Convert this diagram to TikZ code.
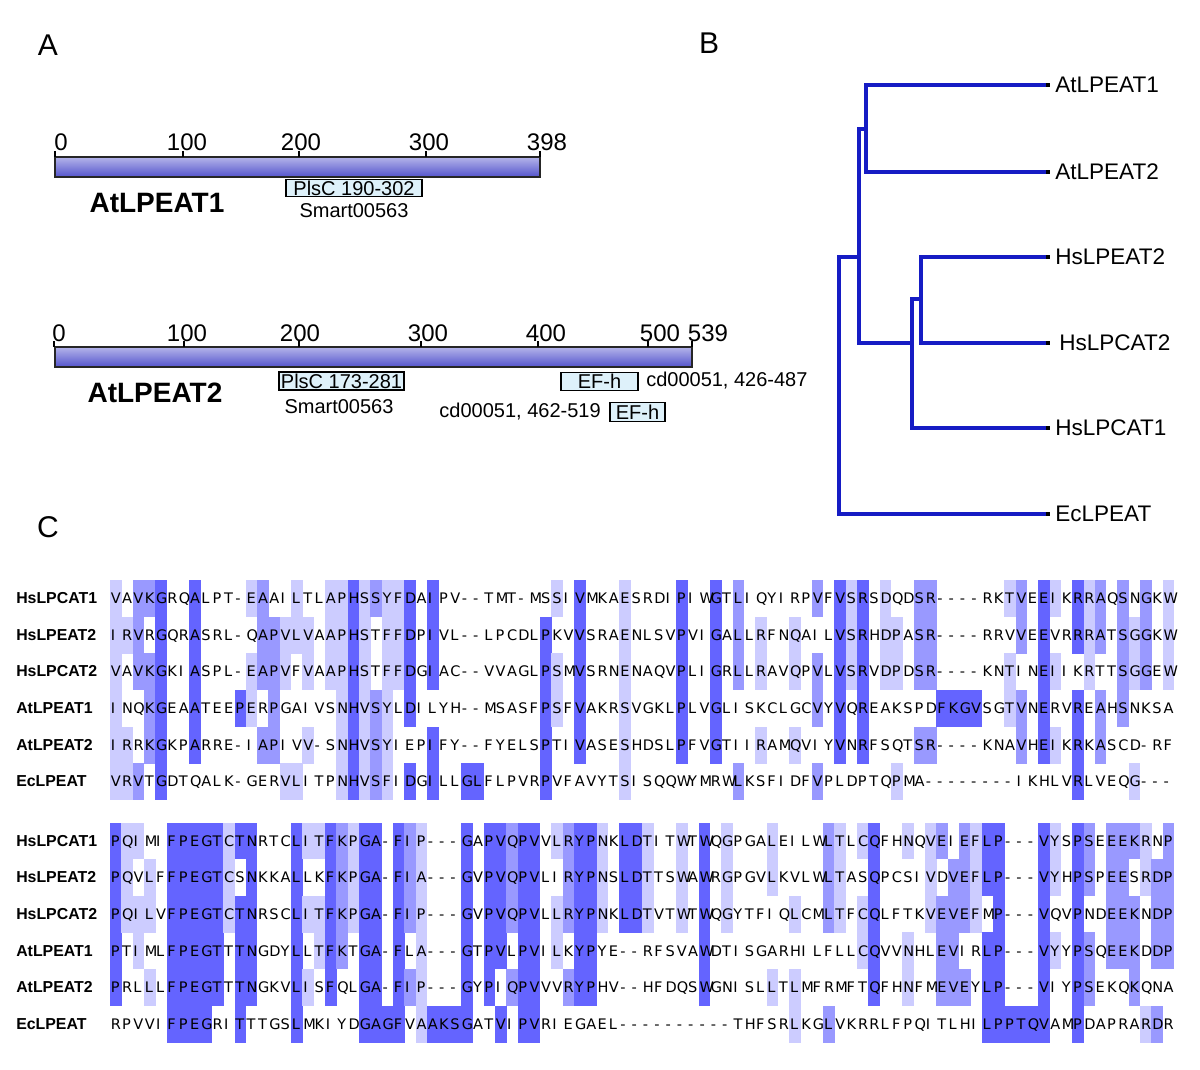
\documentclass[tikz,border=0pt]{standalone}
\usepackage{fontspec}
\setmainfont{Liberation Sans}
\newfontfamily\alnfont{DejaVu Sans}
\definecolor{pidhi}{RGB}{100,100,255}
\definecolor{pidmd}{RGB}{153,153,255}
\definecolor{pidlo}{RGB}{204,204,255}
\definecolor{treeblue}{RGB}{22,28,196}
\definecolor{domfill}{RGB}{222,241,250}
\definecolor{bartop}{RGB}{180,180,234}
\definecolor{barmid}{RGB}{234,234,253}
\definecolor{barbot}{RGB}{84,84,204}

\newcommand\alncell[3]{\fill[fill=#3] (#1,#2) rectangle ++(11.62,36.95);}

\ExplSyntaxOn
\cs_generate_variant:Nn \str_item:Nn { c }
\cs_generate_variant:Nn \str_set:Nn { c }
\cs_generate_variant:Nn \str_map_function:NN { c }
\int_step_inline:nn {6} { \str_new:c { l_aln_s #1 _str } }
\int_new:N \l_aln_i_int
\int_new:N \l_aln_j_int
\int_new:N \l_aln_k_int
\int_new:N \l_aln_ng_int
\int_new:N \l_aln_max_int
\int_new:N \l_aln_cnt_int
\tl_new:N \l_aln_a_tl
\tl_new:N \l_aln_b_tl
\tl_new:N \l_aln_col_tl
\tl_new:N \l_aln_gap_tl
\tl_set:Nn \l_aln_gap_tl {-}
\fp_new:N \l_aln_top_fp

\cs_new_protected:Npn \aln_get:NN #1#2
  { \tl_set:Nx #2 { \str_item:cn { l_aln_s \int_use:N #1 _str } { \int_use:N \l_aln_j_int } } }

\cs_new_protected:Npn \aln_count:
  {
    \int_zero:N \l_aln_cnt_int
    \int_set:Nn \l_aln_k_int {1}
    \int_do_while:nNnn { \l_aln_k_int } < {7}
      {
        \aln_get:NN \l_aln_k_int \l_aln_b_tl
        \tl_if_eq:NNT \l_aln_a_tl \l_aln_b_tl { \int_incr:N \l_aln_cnt_int }
        \int_incr:N \l_aln_k_int
      }
  }

\cs_new_protected:Npn \aln_column:
  {
    \int_zero:N \l_aln_ng_int
    \int_zero:N \l_aln_max_int
    \int_set:Nn \l_aln_i_int {1}
    \int_do_while:nNnn { \l_aln_i_int } < {7}
      {
        \aln_get:NN \l_aln_i_int \l_aln_a_tl
        \tl_if_eq:NNF \l_aln_a_tl \l_aln_gap_tl
          {
            \int_incr:N \l_aln_ng_int
            \aln_count:
            \int_compare:nNnT { \l_aln_cnt_int } > { \l_aln_max_int }
              { \int_set_eq:NN \l_aln_max_int \l_aln_cnt_int }
          }
        \int_incr:N \l_aln_i_int
      }
    \tl_clear:N \l_aln_col_tl
    \int_compare:nNnT { \l_aln_ng_int } > { 0 }
      {
        \int_compare:nNnTF { 100 * \l_aln_max_int } > { 80 * \l_aln_ng_int }
          { \tl_set:Nn \l_aln_col_tl { pidhi } }
          {
            \int_compare:nNnTF { 100 * \l_aln_max_int } > { 60 * \l_aln_ng_int }
              { \tl_set:Nn \l_aln_col_tl { pidmd } }
              {
                \int_compare:nNnT { 100 * \l_aln_max_int } > { 40 * \l_aln_ng_int }
                  { \tl_set:Nn \l_aln_col_tl { pidlo } }
              }
          }
      }
    \tl_if_empty:NF \l_aln_col_tl
      {
        \int_set:Nn \l_aln_i_int {1}
        \int_do_while:nNnn { \l_aln_i_int } < {7}
          {
            \aln_get:NN \l_aln_i_int \l_aln_a_tl
            \tl_if_eq:NNF \l_aln_a_tl \l_aln_gap_tl
              {
                \aln_count:
                \int_compare:nNnT { \l_aln_cnt_int } = { \l_aln_max_int }
                  {
                    \use:x
                      {
                        \exp_not:N \alncell
                          { \fp_eval:n { 110 + (\l_aln_j_int - 1) * 11.32 } }
                          { \fp_eval:n { \l_aln_top_fp + (\l_aln_i_int - 1) * 36.65 } }
                          { \l_aln_col_tl }
                      }
                  }
              }
            \int_incr:N \l_aln_i_int
          }
      }
  }

\NewDocumentCommand \alnset { m m m m m m }
  {
    \str_set:cn { l_aln_s1_str } {#1}
    \str_set:cn { l_aln_s2_str } {#2}
    \str_set:cn { l_aln_s3_str } {#3}
    \str_set:cn { l_aln_s4_str } {#4}
    \str_set:cn { l_aln_s5_str } {#5}
    \str_set:cn { l_aln_s6_str } {#6}
  }
\NewDocumentCommand \alnshade { m }
  {
    \fp_set:Nn \l_aln_top_fp {#1}
    \int_set:Nn \l_aln_j_int {1}
    \int_do_while:nNnn { \l_aln_j_int } < {95}
      { \aln_column: \int_incr:N \l_aln_j_int }
  }
\cs_new:Npn \aln_box:n #1 { \makebox [ 8.49pt ] [ l ] {#1} }
\NewDocumentCommand \alnrow { m }
  { \str_map_function:cN { l_aln_s #1 _str } \aln_box:n }
\ExplSyntaxOff

\tikzset{
  panel/.style={font=\fontsize{22.5pt}{26pt}\selectfont, inner sep=0pt},
  rulerlab/.style={font=\fontsize{18pt}{21pt}\selectfont, inner sep=0pt, anchor=base},
  tick/.style={draw=black, line width=0.8pt},
  protbar/.style={draw=black!85, line width=0.8pt, top color=bartop, middle color=barmid, bottom color=barbot},
  protname/.style={font=\bfseries\fontsize{21pt}{24pt}\selectfont, inner sep=0pt},
  dombox/.style={draw=black, line width=0.8pt, fill=domfill, inner sep=0pt,
     text height=10.7pt, text depth=0pt, font=\fontsize{15pt}{18pt}\selectfont},
  domtext/.style={font=\fontsize{15pt}{18pt}\selectfont, inner sep=0pt},
  treeline/.style={draw=treeblue, line width=2.8pt},
  tipsq/.style={fill=black, minimum size=3.6pt, inner sep=0pt},
  leaflab/.style={font=\fontsize{16.9pt}{20pt}\selectfont, inner sep=0pt, anchor=west},
  seqname/.style={font=\bfseries\fontsize{11.9pt}{14pt}\selectfont, inner sep=0pt, anchor=base west},
  seqrow/.style={font=\alnfont\fontsize{10.9pt}{13pt}\selectfont, inner sep=0pt, anchor=base west}
}

\begin{document}
\begin{tikzpicture}[x=0.75pt,y=-0.75pt]
\useasboundingbox (0,0) rectangle (1200,1070);
\fill[white] (0,0) rectangle (1200,1070);

% ---------- panel labels
\node[panel] (labA) at (48,45) {A};
\node[panel] (labB) at (709,43) {B};
\node[panel] (labC) at (48,527) {C};

% ---------- panel A, AtLPEAT1
\node[protbar, minimum width=363.75pt, minimum height=15pt, inner sep=0pt] (bar1) at (297.5,167) {};
\foreach \t/\x/\lx in {0/55/61,100/183/187,200/299/301,300/426/429,398/540/547}{
  \draw[tick] (\x,151) -- (\x,157);
  \node[rulerlab] (ra\t) at (\lx,151) {\t};
}
\node[protname] (nameA1) at (157,203) {AtLPEAT1};
\node[dombox, minimum width=102pt, minimum height=12.75pt] (plsc1) at (354,188) {PlsC 190-302};
\node[domtext] (sm1) at (354,211) {Smart00563};

% ---------- panel A, AtLPEAT2
\node[protbar, minimum width=477.75pt, minimum height=15pt, inner sep=0pt] (bar2) at (373.5,357) {};
\foreach \t/\x/\lx in {0/54/59,100/184/187,200/299/300,300/421/428,400/538/546,500/648/660,539/692/708}{
  \draw[tick] (\x,341) -- (\x,347);
  \node[rulerlab] (rb\t) at (\lx,341) {\t};
}
\node[protname] (nameA2) at (155,393) {AtLPEAT2};
\node[dombox, minimum width=93.75pt, minimum height=13.5pt] (plsc2) at (341.5,381) {PlsC 173-281};
\node[domtext] (sm2) at (339,407) {Smart00563};
\node[dombox, minimum width=57.75pt, minimum height=14pt] (efh1) at (599.5,381.5) {EF-h};
\node[domtext, anchor=west] (cd1) at (646,381) {cd00051, 426-487};
\node[dombox, minimum width=41.25pt, minimum height=14pt] (efh2) at (637.5,412) {EF-h};
\node[domtext, anchor=east] (cd2) at (601,412) {cd00051, 462-519};

% ---------- panel B, tree
\coordinate (tAt1) at (1048,85);
\coordinate (tAt2) at (1048,172);
\coordinate (tH2)  at (1048,257);
\coordinate (tC2)  at (1048,343);
\coordinate (tC1)  at (1048,428);
\coordinate (tEc)  at (1048,514);
\coordinate (nAt)  at (866,129);
\coordinate (nAH)  at (859,257);
\coordinate (nH23) at (921,299);
\coordinate (nHs)  at (912,343);
\coordinate (nRoot) at (839,400);
\draw[treeline] (tAt1) -| (nAt) |- (tAt2);
\draw[treeline] (nAt) -| (nAH) |- (nHs);
\draw[treeline] (tH2) -| (nH23) |- (tC2);
\draw[treeline] (nH23) -| (nHs) |- (tC1);
\draw[treeline] (nAH) -| (nRoot) |- (tEc);
\foreach \n in {tAt1,tAt2,tH2,tC2,tC1,tEc}{ \node[tipsq] (sq\n) at (\n) {}; }
\node[leaflab] (lAt1) at (1055,85) {AtLPEAT1};
\node[leaflab] (lAt2) at (1055,172) {AtLPEAT2};
\node[leaflab] (lH2)  at (1055,257) {HsLPEAT2};
\node[leaflab] (lC2)  at (1059,343) {HsLPCAT2};
\node[leaflab] (lC1)  at (1055,428) {HsLPCAT1};
\node[leaflab] (lEc)  at (1055,514) {EcLPEAT};

% ---------- panel C, block 1
\alnset
 {VAVKGRQALPT-EAAILTLAPHSSYFDAIPV--TMT-MSSIVMKAESRDIPIWGTLIQYIRPVFVSRSDQDSR----RKTVEEIKRRAQSNGKW}
 {IRVRGQRASRL-QAPVLVAAPHSTFFDPIVL--LPCDLPKVVSRAENLSVPVIGALLRFNQAILVSRHDPASR----RRVVEEVRRRATSGGKW}
 {VAVKGKIASPL-EAPVFVAAPHSTFFDGIAC--VVAGLPSMVSRNENAQVPLIGRLLRAVQPVLVSRVDPDSR----KNTINEIIKRTTSGGEW}
 {INQKGEAATEEPERPGAIVSNHVSYLDILYH--MSASFPSFVAKRSVGKLPLVGLISKCLGCVYVQREAKSPDFKGVSGTVNERVREAHSNKSA}
 {IRRKGKPARRE-IAPIVV-SNHVSYIEPIFY--FYELSPTIVASESHDSLPFVGTIIRAMQVIYVNRFSQTSR----KNAVHEIKRKASCD-RF}
 {VRVTGDTQALK-GERVLITPNHVSFIDGILLGLFLPVRPVFAVYTSISQQWYMRWLKSFIDFVPLDPTQPMA--------IKHLVRLVEQG---}
\alnshade{580}
\foreach \i/\nm in {1/HsLPCAT1,2/HsLPEAT2,3/HsLPCAT2,4/AtLPEAT1,5/AtLPEAT2,6/EcLPEAT}{
  \node[seqname] (na\i) at (16,{603.6+(\i-1)*36.65}) {\nm};
  \node[seqrow] (sa\i) at (110.6,{603.6+(\i-1)*36.65}) {\alnrow{\i}};
}

% ---------- panel C, block 2
\alnset
 {PQIMIFPEGTCTNRTCLITFKPGA-FIP---GAPVQPVVLRYPNKLDTITWTWQGPGALEILWLTLCQFHNQVEIEFLP---VYSPSEEEKRNP}
 {PQVLFFPEGTCSNKKALLKFKPGA-FIA---GVPVQPVLIRYPNSLDTTSWAWRGPGVLKVLWLTASQPCSIVDVEFLP---VYHPSPEESRDP}
 {PQILVFPEGTCTNRSCLITFKPGA-FIP---GVPVQPVLLRYPNKLDTVTWTWQGYTFIQLCMLTFCQLFTKVEVEFMP---VQVPNDEEKNDP}
 {PTIMLFPEGTTTNGDYLLTFKTGA-FLA---GTPVLPVILKYPYE--RFSVAWDTISGARHILFLLCQVVNHLEVIRLP---VYYPSQEEKDDP}
 {PRLLLFPEGTTTNGKVLISFQLGA-FIP---GYPIQPVVVRYPHV--HFDQSWGNISLLTLMFRMFTQFHNFMEVEYLP---VIYPSEKQKQNA}
 {RPVVIFPEGRITTTGSLMKIYDGAGFVAAKSGATVIPVRIEGAEL----------THFSRLKGLVKRRLFPQITLHILPPTQVAMPDAPRARDR}
\alnshade{822.5}
\foreach \i/\nm in {1/HsLPCAT1,2/HsLPEAT2,3/HsLPCAT2,4/AtLPEAT1,5/AtLPEAT2,6/EcLPEAT}{
  \node[seqname] (nb\i) at (16,{846.1+(\i-1)*36.65}) {\nm};
  \node[seqrow] (sb\i) at (110.6,{846.1+(\i-1)*36.65}) {\alnrow{\i}};
}
\end{tikzpicture}
\end{document}
